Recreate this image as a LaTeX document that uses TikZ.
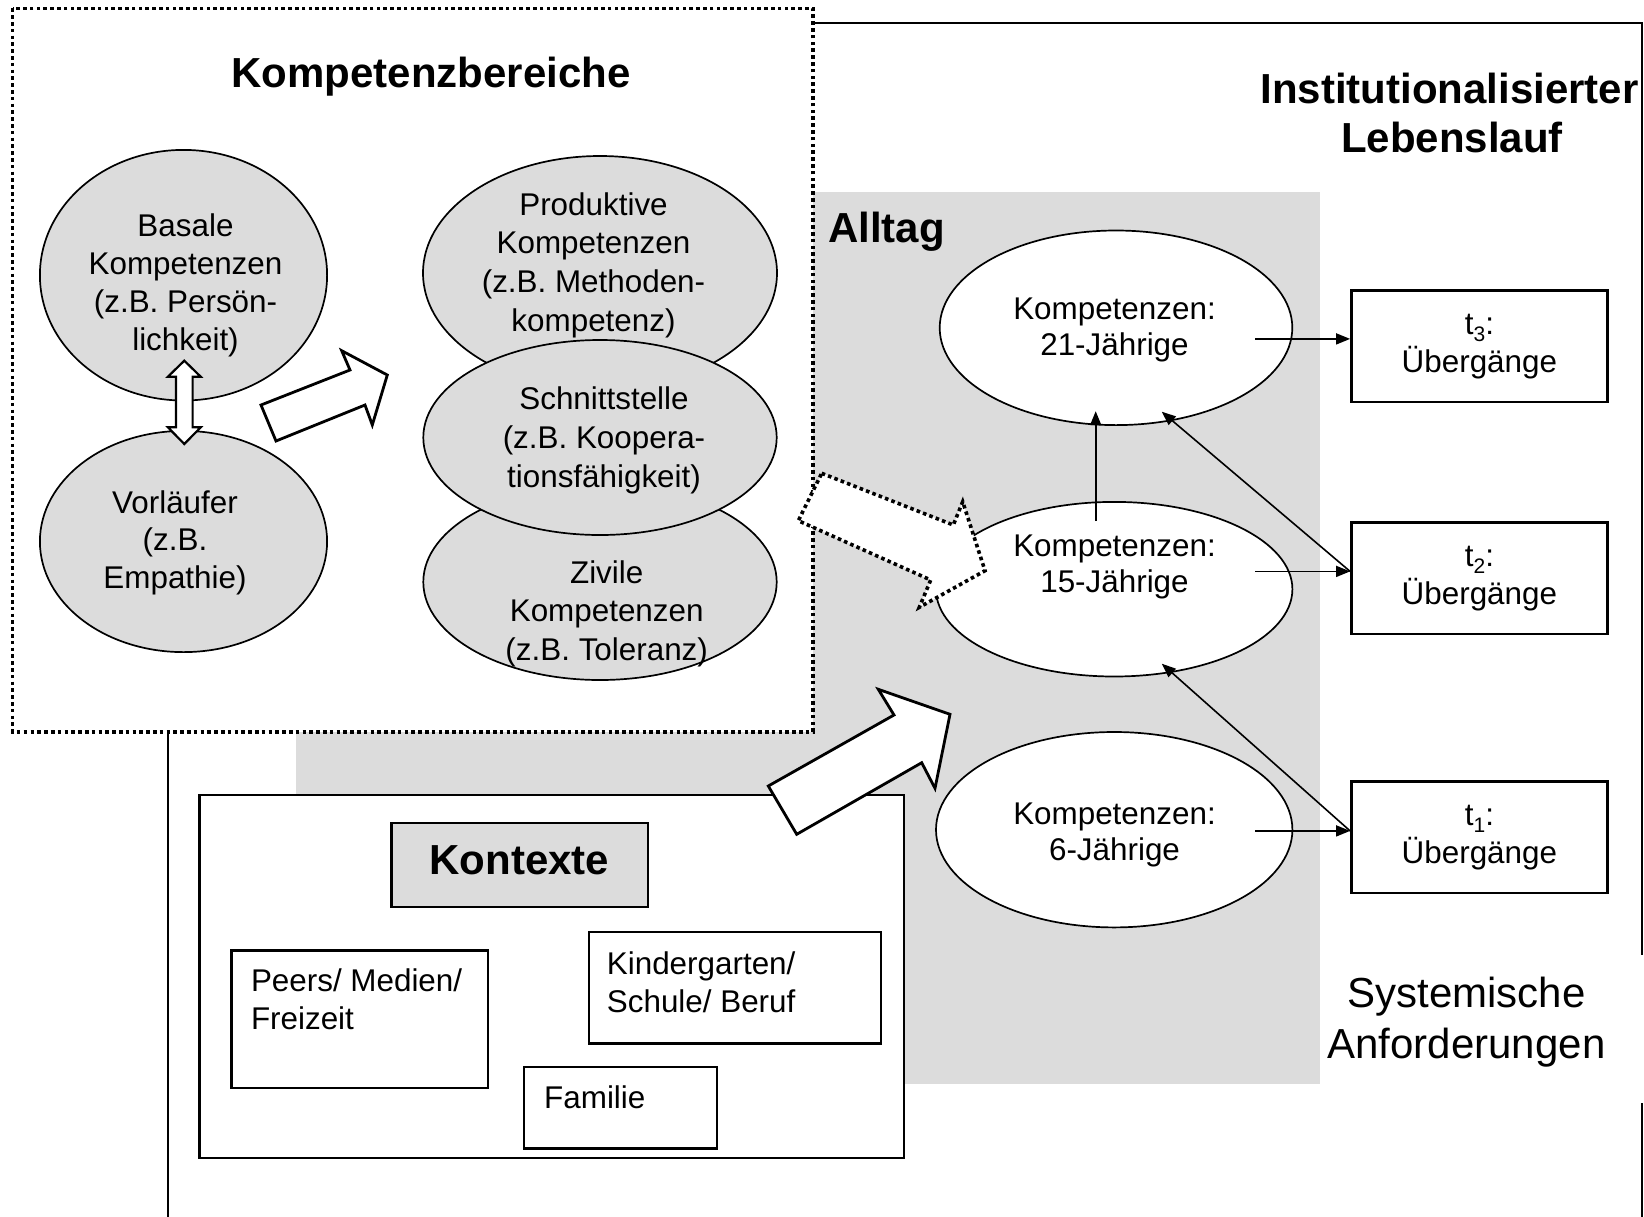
\documentclass[tikz,border=0pt]{standalone}
\usepackage{fontspec}
\setmainfont{Liberation Sans}
\usetikzlibrary{shapes.geometric,arrows.meta}
\definecolor{lgray}{RGB}{220,220,220}
\tikzset{
  elli/.style={ellipse, draw, line width=1.7pt, inner sep=0pt, outer sep=0pt},
  gel/.style={elli, fill=lgray},
  wel/.style={elli, fill=white},
  bodyA/.style={font=\fontsize{31.4}{37.7}\selectfont, align=center, inner sep=0pt},
  bodyB/.style={font=\fontsize{31.4}{38.6}\selectfont, align=center, inner sep=0pt},
  bodyC/.style={font=\fontsize{31.4}{36}\selectfont, align=center, inner sep=0pt},
  bodyL/.style={font=\fontsize{31.4}{37.6}\selectfont, align=left, inner sep=0pt, anchor=north west},
  ttl/.style={font=\fontsize{42}{49}\selectfont\bfseries, inner sep=0pt, anchor=base},
  big/.style={font=\fontsize{42}{49}\selectfont, inner sep=0pt, anchor=base},
  tbox/.style={draw, line width=2.4pt, fill=white, inner sep=0pt, minimum width=256.2pt, minimum height=111.5pt, font=\fontsize{31.4}{35}\selectfont, align=center},
  cbox/.style={draw, line width=2.2pt, fill=white, inner sep=0pt},
  arr/.style={line width=1.6pt, -{Triangle[length=14pt,width=11pt]}},
  blockarrow/.style={draw, line width=2.8pt, fill=white, line join=miter},
  dotline/.style={line width=3.6pt, dash pattern=on 3.6pt off 3.2pt},
}
\newcommand{\tsub}[1]{t\raisebox{-7pt}{\fontsize{21}{21}\selectfont #1}:}
\begin{document}
\begin{tikzpicture}[x=1pt,y=-1pt]
\useasboundingbox (0,0) rectangle (1644,1216);
\fill[white] (0,0) rectangle (1644,1216);
% outer frame: Institutionalisierter Lebenslauf
\begin{scope}
\clip (0,0) rectangle (1644,1216);
\draw[line width=2pt] (168,1230) -- (168,23) -- (1642,23) -- (1642,955);
\draw[line width=2pt] (1642,1103) -- (1642,1230);
\end{scope}
% Alltag background
\fill[lgray] (296,192) rectangle (1320,1084);
% Kompetenzbereiche dotted frame
\draw[dotline, fill=white] (12.6,8.4) rectangle (812.7,731.7);
% Kontexte
\node[cbox, minimum width=704.9pt, minimum height=362.4pt] (ctx) at (551.85,976.4) {};
\node[cbox, fill=lgray, minimum width=256.9pt, minimum height=84.4pt] (ctxt) at (519.85,864.8) {};
\node[ttl] (ctxl) at (519.4,874.9) {Kontexte};
\node[cbox, minimum width=256.5pt, minimum height=137.5pt] (peers) at (359.65,1019.15) {};
\node[cbox, minimum width=292.3pt, minimum height=111.4pt] (kiga) at (734.85,987.7) {};
\node[cbox, minimum width=192.9pt, minimum height=81.4pt] (fam) at (620.65,1107.7) {};
\node[bodyL] (peersl) at (250.8,965.1) {\strut Peers/ Medien/\\\strut Freizeit};
\node[bodyL] (kigal) at (606.7,948) {\strut Kindergarten/\\\strut Schule/ Beruf};
\node[bodyL] (faml) at (544,1082) {\strut Familie};
% left ellipses
\node[gel, minimum width=287.2pt, minimum height=250.6pt] (bas) at (183.5,275.2) {};
\node[gel, minimum width=287.2pt, minimum height=221.2pt] (vor) at (183.5,541.5) {};
\node[gel, minimum width=354pt, minimum height=234pt] (pro) at (600,273) {};
\node[gel, minimum width=353.4pt, minimum height=196pt] (ziv) at (600,582) {};
\node[gel, minimum width=353.4pt, minimum height=195pt] (sch) at (600,437.5) {};
% right ellipses
\node[wel, minimum width=352.6pt, minimum height=194.6pt] (e21) at (1116,327.8) {};
\node[wel, minimum width=356.4pt, minimum height=174.6pt] (e15) at (1114.2,589.2) {};
\node[wel, minimum width=356.4pt, minimum height=195.4pt] (e6) at (1114.2,829.7) {};
% transition boxes
\node[tbox] (t3) at (1479.4,346.4) {\strut\tsub{3}\\\strut Übergänge};
\node[tbox] (t2) at (1479.4,578.3) {\strut\tsub{2}\\\strut Übergänge};
\node[tbox] (t1) at (1479.4,837.3) {\strut\tsub{1}\\\strut Übergänge};
% texts in ellipses
\node[bodyA] (basl) at (185.5,286) {\strut Basale\\\strut Kompetenzen\\\strut (z.B. Persön-\\\strut lichkeit)};
\node[bodyA] (vorl) at (175,543.2) {\strut Vorläufer\\\strut (z.B.\\\strut Empathie)};
\node[bodyB] (prol) at (593.5,265.4) {\strut Produktive\\\strut Kompetenzen\\\strut (z.B. Methoden-\\\strut kompetenz)};
\node[bodyB] (schl) at (604,440.7) {\strut Schnittstelle\\\strut (z.B. Koopera-\\\strut tionsfähigkeit)};
\node[bodyB] (zivl) at (606.7,614) {\strut Zivile\\\strut Kompetenzen\\\strut (z.B. Toleranz)};
\node[bodyC] (l21) at (1114.5,330.5) {\strut Kompetenzen:\\\strut 21-Jährige};
\node[bodyC] (l15) at (1114.5,567.5) {\strut Kompetenzen:\\\strut 15-Jährige};
\node[bodyC] (l6) at (1114.5,835.4) {\strut Kompetenzen:\\\strut 6-Jährige};
% titles
\node[ttl] (kb) at (431,87) {Kompetenzbereiche};
\node[ttl] (inst1) at (1449.4,103.6) {Institutionalisierter};
\node[ttl] (inst2) at (1452,152.2) {Lebenslauf};
\node[ttl, anchor=base west] (allt) at (828,242) {Alltag};
\node[big] (sys1) at (1466.5,1007.5) {Systemische};
\node[big] (sys2) at (1466.5,1058.5) {Anforderungen};
% connectors
\coordinate (s21) at (1255,338.9);
\coordinate (s15) at (1255,571.4);
\coordinate (s6) at (1255,830.9);
\coordinate (v15) at (1095.7,521);
\coordinate (v21) at (1095.7,411.2);
\coordinate (h21) at (1161.7,411.7);
\coordinate (h15) at (1161.8,663.7);
\draw[arr] (s21) -- (s21 -| t3.west);
\draw[arr] (s15) -- (s15 -| t2.west);
\draw[arr] (s6) -- (s6 -| t1.west);
\draw[arr] (v15) -- (v21);
\draw[arr] (s15 -| t2.west) -- (h21);
\draw[arr] (s6 -| t1.west) -- (h15);
% block arrows
\draw[blockarrow, line width=2.2pt] (184.3,360.7) -- (200.7,376.7) -- (192.6,376.7) -- (192.6,427.3) -- (200.7,427.3) -- (184.3,444) -- (167.9,427.3) -- (176,427.3) -- (176,376.7) -- (167.9,376.7) -- cycle;
\draw[blockarrow] (276,441) -- (261,405) -- (350,370) -- (341.7,350.7) -- (387.3,375) -- (372.3,425) -- (365,405) -- cycle;
\draw[blockarrow, dotline] (821.7,473.3) -- (953.3,525) -- (962.7,501.7) -- (985,570.7) -- (919.3,607.3) -- (930.7,580) -- (798.3,520.7) -- cycle;
\draw[blockarrow] (796.7,834.3) -- (768.3,786) -- (894,715) -- (878.3,689.3) -- (950,714.3) -- (935,788.3) -- (921.7,762.7) -- cycle;
\end{tikzpicture}
\end{document}
